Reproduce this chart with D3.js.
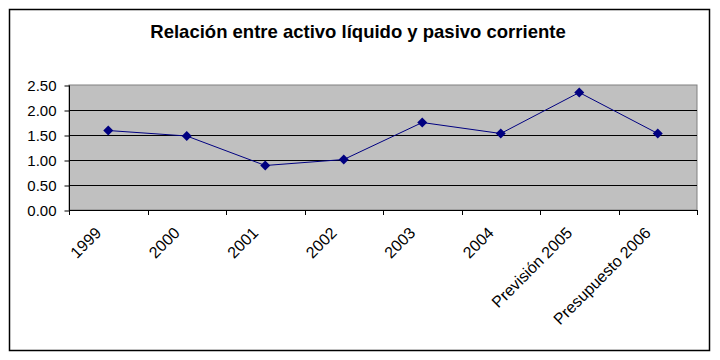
<!DOCTYPE html>
<html lang="es">
  <head>
    <meta charset="utf-8">
    <title>Relación entre activo líquido y pasivo corriente</title>
    <script src="https://d3js.org/d3.v7.min.js"></script>
    <style>
      body { margin: 0; background: #fff; }
      text { font-family: "Liberation Sans", Arial, sans-serif; }
    </style>
  </head>
  <body>
    <div id="chart"></div>
    <script type="text/javascript">
      // chart data
      var categories = ["1999", "2000", "2001", "2002", "2003", "2004", "Previsión 2005", "Presupuesto 2006"];
      var ratios = [1.59, 1.48, 0.89, 1.01, 1.75, 1.53, 2.35, 1.53];
      var yTicks = [0, 0.5, 1, 1.5, 2, 2.5];
      var titleText = "Relación entre activo líquido y pasivo corriente";

      var width = 720, height = 360;
      var plot = { left: 69, right: 697, top: 85, bottom: 210 };

      var svg = d3.select("#chart")
        .append("svg")
        .attr("width", width)
        .attr("height", height);

      // outer chart border
      svg.append("rect")
        .attr("x", 9.5)
        .attr("y", 9.5)
        .attr("width", 700)
        .attr("height", 341)
        .attr("fill", "white")
        .attr("stroke", "black")
        .attr("stroke-width", 1.5);

      // title
      svg.append("text")
        .attr("x", 358)
        .attr("y", 38)
        .attr("text-anchor", "middle")
        .style("font-size", "18.5px")
        .style("font-weight", "bold")
        .text(titleText);

      var xScale = d3.scaleBand()
        .domain(categories)
        .range([plot.left, plot.right]);

      var yScale = d3.scaleLinear()
        .domain([0, 2.5])
        .range([plot.bottom, plot.top]);

      // plot area background
      svg.append("rect")
        .attr("x", plot.left)
        .attr("y", plot.top)
        .attr("width", plot.right - plot.left)
        .attr("height", plot.bottom - plot.top)
        .attr("fill", "#c0c0c0")
        .attr("stroke", "#808080")
        .attr("stroke-width", 1);

      // gridlines
      svg.append("g")
        .selectAll("line")
        .data(yTicks.filter(function (d) { return d > 0 && d < 2.5; }))
        .enter()
        .append("line")
          .attr("x1", plot.left)
          .attr("x2", plot.right)
          .attr("y1", function (d) { return Math.round(yScale(d)) + 0.5; })
          .attr("y2", function (d) { return Math.round(yScale(d)) + 0.5; })
          .attr("stroke", "black")
          .attr("stroke-width", 1);

      // y axis
      var yAxis = d3.axisLeft(yScale)
        .tickValues(yTicks)
        .tickFormat(d3.format(".2f"))
        .tickSize(5)
        .tickPadding(8);
      var yG = svg.append("g")
        .attr("transform", "translate(" + (plot.left + 0.5) + ",0.5)")
        .call(yAxis);
      yG.select(".domain").attr("stroke", "black").attr("d", "M0," + plot.top + "V" + plot.bottom);
      yG.selectAll(".tick line").attr("stroke", "black");
      yG.selectAll(".tick text")
        .attr("fill", "black")
        .style("font-size", "15px")
        .style("font-family", "'Liberation Sans', Arial, sans-serif");

      // x axis: ticks on category boundaries
      var boundaries = categories.map(function (c) { return xScale(c); }).concat([plot.right]);
      var xG = svg.append("g");
      xG.append("line")
        .attr("x1", plot.left)
        .attr("x2", plot.right)
        .attr("y1", plot.bottom + 0.5)
        .attr("y2", plot.bottom + 0.5)
        .attr("stroke", "black");
      xG.selectAll(".xtick")
        .data(boundaries)
        .enter()
        .append("line")
          .attr("class", "xtick")
          .attr("x1", function (d) { return Math.round(d) + 0.5; })
          .attr("x2", function (d) { return Math.round(d) + 0.5; })
          .attr("y1", plot.bottom)
          .attr("y2", plot.bottom + 5)
          .attr("stroke", "black");

      xG.selectAll(".xlabel")
        .data(categories)
        .enter()
        .append("text")
          .attr("class", "xlabel")
          .attr("text-anchor", "end")
          .attr("transform", function (d) {
            return "translate(" + (xScale(d) + xScale.bandwidth() / 2 - 10) + "," + (plot.bottom + 20) + ")rotate(-45)";
          })
          .attr("dy", "0.35em")
          .style("font-size", "16px")
          .text(function (d) { return d; });

      // series line
      var cx = function (d, i) { return xScale(categories[i]) + xScale.bandwidth() / 2; };
      var line = d3.line()
        .x(function (d, i) { return cx(d, i); })
        .y(function (d) { return yScale(d); });

      svg.append("path")
        .datum(ratios)
        .attr("d", line)
        .attr("fill", "none")
        .attr("stroke", "#000080")
        .attr("stroke-width", 1);

      // diamond markers
      svg.selectAll(".marker")
        .data(ratios)
        .enter()
        .append("path")
          .attr("class", "marker")
          .attr("d", "M0,-5L5,0L0,5L-5,0Z")
          .attr("transform", function (d, i) { return "translate(" + cx(d, i) + "," + yScale(d) + ")"; })
          .attr("fill", "#000080");
    </script>
  </body>
</html>
